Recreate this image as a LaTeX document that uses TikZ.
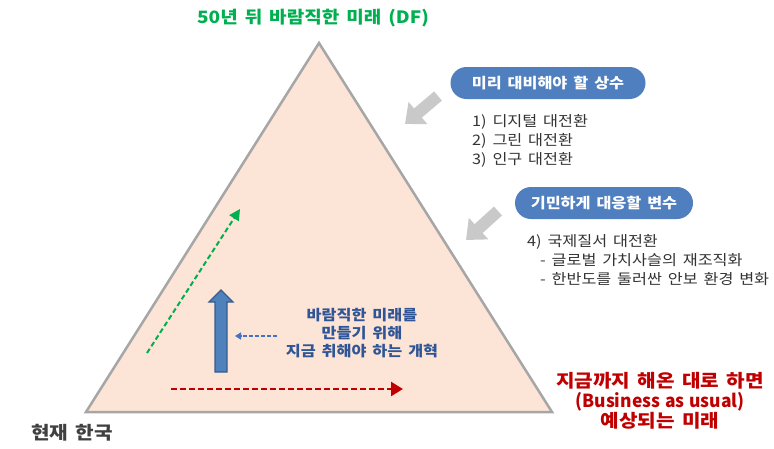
\documentclass[tikz,border=0pt]{standalone}
\usepackage{fontspec}
\setmainfont{Noto Sans CJK KR}[FakeStretch=1.12, WordSpace=1.6]
\newfontfamily\plainlatin{Noto Sans CJK KR}[FakeStretch=0.97, WordSpace=1.2]
\usetikzlibrary{arrows.meta}

\definecolor{dfgreen}{HTML}{00B050}
\definecolor{pillblue}{HTML}{4F7FBF}
\definecolor{peach}{HTML}{FCE4D6}
\definecolor{edgegray}{HTML}{A6A6A6}
\definecolor{hintgray}{HTML}{C9C9C9}
\definecolor{reformnavy}{HTML}{2F5597}
\definecolor{baured}{HTML}{C00000}
\definecolor{reformblue}{HTML}{4F81BD}
\definecolor{reformedge}{HTML}{385D8A}
\definecolor{dotblue}{HTML}{4472C4}

\begin{document}
\begin{tikzpicture}[x=1pt,y=-1pt,
        pill/.style={fill=pillblue, rounded corners=16pt, minimum width=#1,
          minimum height=32pt, inner sep=0pt, text=white,
          font=\fontsize{14.5}{17}\selectfont\bfseries},
        listtext/.style={align=left, inner sep=0pt, text=black!80,
          font=\fontsize{14.5}{19}\selectfont},
        hint/.style={hintgray, line width=12pt, -{Triangle[width=28pt,length=17pt]}},
        bigtext/.style={inner sep=0pt, font=\fontsize{18}{20}\selectfont\bfseries}]
          \useasboundingbox (0,0) rectangle (774,448);
          % the triangle
          \coordinate (apex) at (319,43);
          \coordinate (baseL) at (86,412);
          \coordinate (baseR) at (552,412);
          \draw[fill=peach, draw=edgegray, line width=2.5pt] (apex) -- (baseR) -- (baseL) -- cycle;
          \node[bigtext, text=dfgreen, font=\fontsize{17}{20}\selectfont\bfseries] (goal) at (313,18)
            {50년 뒤 바람직한 미래 (DF)};
          \node[bigtext, text=black!75] (now) at (72,433) {현재 한국};
          % constants and variables
          \node[pill=195pt] (constbox) at (548,83) {미리 대비해야 할 상수};
          \node[listtext, anchor=west] (constlist) at (472,141)
            {1) 디지털 대전환\\2) 그린 대전환\\3) 인구 대전환};
          \node[pill=178pt] (varbox) at (604,203) {기민하게 대응할 변수};
          \node[listtext, anchor=west] (varlist) at (527,260)
            {4) 국제질서 대전환\\\hspace*{13pt}- 글로벌 가치사슬의 재조직화\\\hspace*{13pt}- 한반도를 둘러싼 안보 환경 변화};
          \coordinate (h1s) at (438,96);
          \coordinate (h1e) at (405,124);
          \coordinate (h2s) at (498,211);
          \coordinate (h2e) at (466,240);
          \draw[hint] (h1s) -- (h1e);
          \draw[hint] (h2s) -- (h2e);
          % inside the triangle
          \coordinate (gs) at (147,353);
          \coordinate (ge) at (240,209);
          \draw[dfgreen, line width=2pt, dash pattern=on 5pt off 3pt,
            -{Triangle[width=11pt,length=11pt]}] (gs) -- (ge);
          \draw[fill=reformblue, draw=reformedge, line width=1.2pt, shift={(221,372)}]
            (-6,0) -- (-6,-70) -- (-12,-70) -- (0,-82) -- (12,-70) -- (6,-70) -- (6,0) -- cycle;
          \node[inner sep=0pt, align=center, text=reformnavy,
            font=\fontsize{14.5}{18}\selectfont\bfseries] (reform) at (362,333)
            {바람직한 미래를\\만들기 위해\\지금 취해야 하는 개혁};
          \coordinate (ds) at (277,336);
          \coordinate (de) at (235,336);
          \draw[dotblue, line width=1.5pt, dash pattern=on 4pt off 2pt,
            -{Triangle[width=7pt,length=6pt]}] (ds) -- (de);
          \coordinate (rs) at (171,389);
          \coordinate (re) at (403,389);
          \draw[baured, line width=2.5pt, dash pattern=on 6pt off 3pt,
            -{Triangle[width=14pt,length=12pt]}] (rs) -- (re);
          \node[bigtext, align=center, text=baured] (bau) at (660,401)
            {지금까지 해온 대로 하면\\{\plainlatin (Business as usual)}\\예상되는 미래};
\end{tikzpicture}
\end{document}
